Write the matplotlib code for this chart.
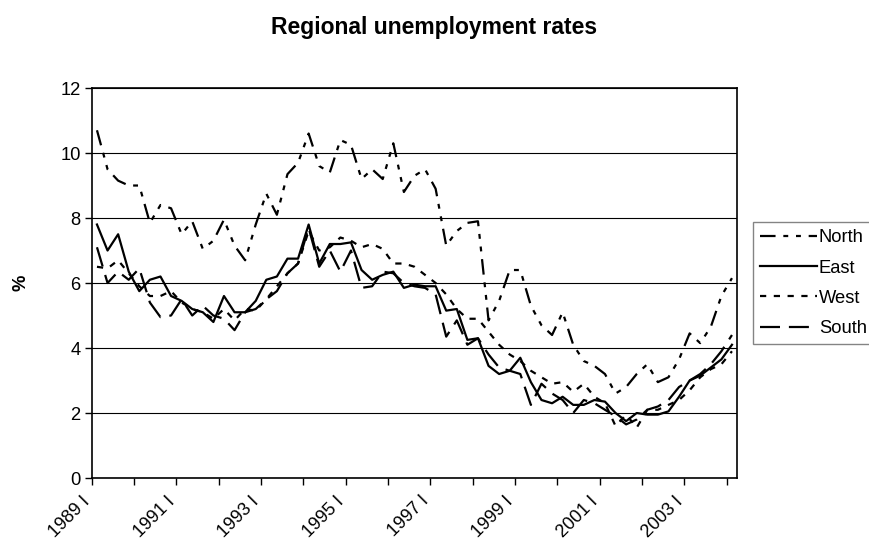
import numpy as np
import matplotlib
matplotlib.use("Agg")
import matplotlib.pyplot as plt
from matplotlib.transforms import ScaledTranslation

plt.rcParams['font.family'] = ['Liberation Sans', 'DejaVu Sans']

# quarterly data, 1989 I .. 2004 I
north = [10.7, 9.5, 9.15, 9.0, 9.0, 7.85, 8.4, 8.3, 7.5, 7.9,
         7.05, 7.3, 7.95, 7.15, 6.7, 7.8, 8.75, 8.1, 9.35, 9.7,
         10.6, 9.6, 9.4, 10.4, 10.25, 9.2, 9.5, 9.2, 10.3, 8.8,
         9.3, 9.5, 8.9, 7.15, 7.6, 7.85, 7.9, 4.85, 5.45, 6.4,
         6.4, 5.3, 4.7, 4.4, 5.1, 4.1, 3.6, 3.45, 3.2, 2.6,
         2.8, 3.2, 3.5, 2.95, 3.1, 3.65, 4.45, 4.15, 4.65, 5.6,
         6.15]
east = [7.8, 7.0, 7.5, 6.35, 5.75, 6.1, 6.2, 5.6, 5.45, 5.2,
        5.1, 4.8, 5.6, 5.1, 5.1, 5.45, 6.1, 6.2, 6.75, 6.75,
        7.8, 6.6, 7.2, 7.2, 7.25, 6.4, 6.1, 6.25, 6.35, 5.85,
        5.95, 5.9, 5.9, 5.15, 5.2, 4.25, 4.3, 3.45, 3.2, 3.3,
        3.7, 2.95, 2.4, 2.3, 2.5, 2.25, 2.25, 2.4, 2.35, 2.0,
        1.75, 2.0, 1.95, 1.95, 2.05, 2.5, 3.0, 3.15, 3.4, 3.65,
        4.1]
west = [6.5, 6.45, 6.7, 6.3, 5.9, 5.6, 5.6, 5.75, 5.4, 5.2,
        5.1, 4.9, 5.2, 4.85, 5.2, 5.15, 5.5, 5.9, 6.3, 6.6,
        7.6, 7.0, 7.1, 7.4, 7.3, 7.1, 7.2, 7.05, 6.6, 6.6,
        6.5, 6.25, 6.0, 5.65, 5.2, 4.9, 4.9, 4.5, 4.1, 3.8,
        3.6, 3.3, 3.1, 2.9, 2.95, 2.65, 2.9, 2.5, 2.3, 1.6,
        1.95, 1.55, 2.1, 2.1, 2.25, 2.4, 2.7, 3.1, 3.35, 3.5,
        3.9]
south = [7.1, 6.0, 6.35, 6.1, 6.45, 5.4, 4.95, 5.0, 5.5, 5.0,
         5.3, 5.0, 4.9, 4.55, 5.1, 5.2, 5.5, 5.75, 6.3, 6.6,
         7.7, 6.5, 7.0, 6.35, 7.0, 5.85, 5.9, 6.35, 6.3, 6.0,
         5.9, 5.85, 5.65, 4.35, 4.85, 4.1, 4.3, 3.8, 3.4, 3.3,
         3.2, 2.25, 2.9, 2.6, 2.4, 2.0, 2.4, 2.3, 2.1, 1.9,
         1.65, 1.8, 2.1, 2.2, 2.4, 2.8, 3.0, 3.2, 3.5, 3.9,
         4.4]
year_labels = ["1989 I", "1991 I", "1993 I", "1995 I",
               "1997 I", "1999 I", "2001 I", "2003 I"]

series = [
    ("North", north, (0, (7, 3.5, 2.2, 3.5, 2.2, 3.5))),
    ("East", east, "-"),
    ("West", west, (0, (2.8, 3.4))),
    ("South", south, (0, (9, 4))),
]

fig = plt.figure(figsize=(8.69, 5.43), dpi=100)
ax = fig.add_axes([0.1055, 0.1197, 0.7429, 0.7182])

x = np.arange(len(north))
for name, vals, ls in series:
    ax.plot(x, vals, color="black", linewidth=1.6, linestyle=ls, label=name)

ax.set_xlim(-0.5, len(north) - 0.5)
ax.set_ylim(0, 12)
ax.set_yticks(np.arange(0, 13, 2))
ax.yaxis.grid(True, color="black", linewidth=0.8)
ax.set_axisbelow(True)

# ticks sit between categories, one per year, label every second year
tick_pos = np.arange(-0.5, len(north) - 0.5, 4)
ax.set_xticks(tick_pos)
ax.set_xticklabels([year_labels[i // 2] if i % 2 == 0 else "" for i in range(len(tick_pos))],
                   rotation=45, ha="right", va="center", rotation_mode="anchor")
ax.tick_params(axis="x", length=5, width=1, pad=10, labelsize=13)
ax.tick_params(axis="y", length=5, width=1, pad=3, labelsize=13.2)
shift = ScaledTranslation(-3 / 72, 0, fig.dpi_scale_trans)
for lab in ax.get_xticklabels():
    lab.set_transform(lab.get_transform() + shift)

for s in ax.spines.values():
    s.set_color("black")
    s.set_linewidth(1.2)

ax.set_ylabel("%", fontsize=13.2, fontweight="bold", labelpad=22)

fig.text(0.5, 0.95, "Regional unemployment rates", ha="center", va="center",
         fontsize=16.5, fontweight="bold")

leg = fig.legend(loc="upper left", bbox_to_anchor=(753 / 869, 1 - 222 / 543),
                 fontsize=13.2, frameon=True, fancybox=False, borderaxespad=0,
                 handlelength=3.1, handletextpad=0.1, labelspacing=0.72,
                 borderpad=0.4)
leg.get_frame().set_edgecolor("#666666")
leg.get_frame().set_linewidth(1.0)

fig.savefig("out.png", dpi=100)
